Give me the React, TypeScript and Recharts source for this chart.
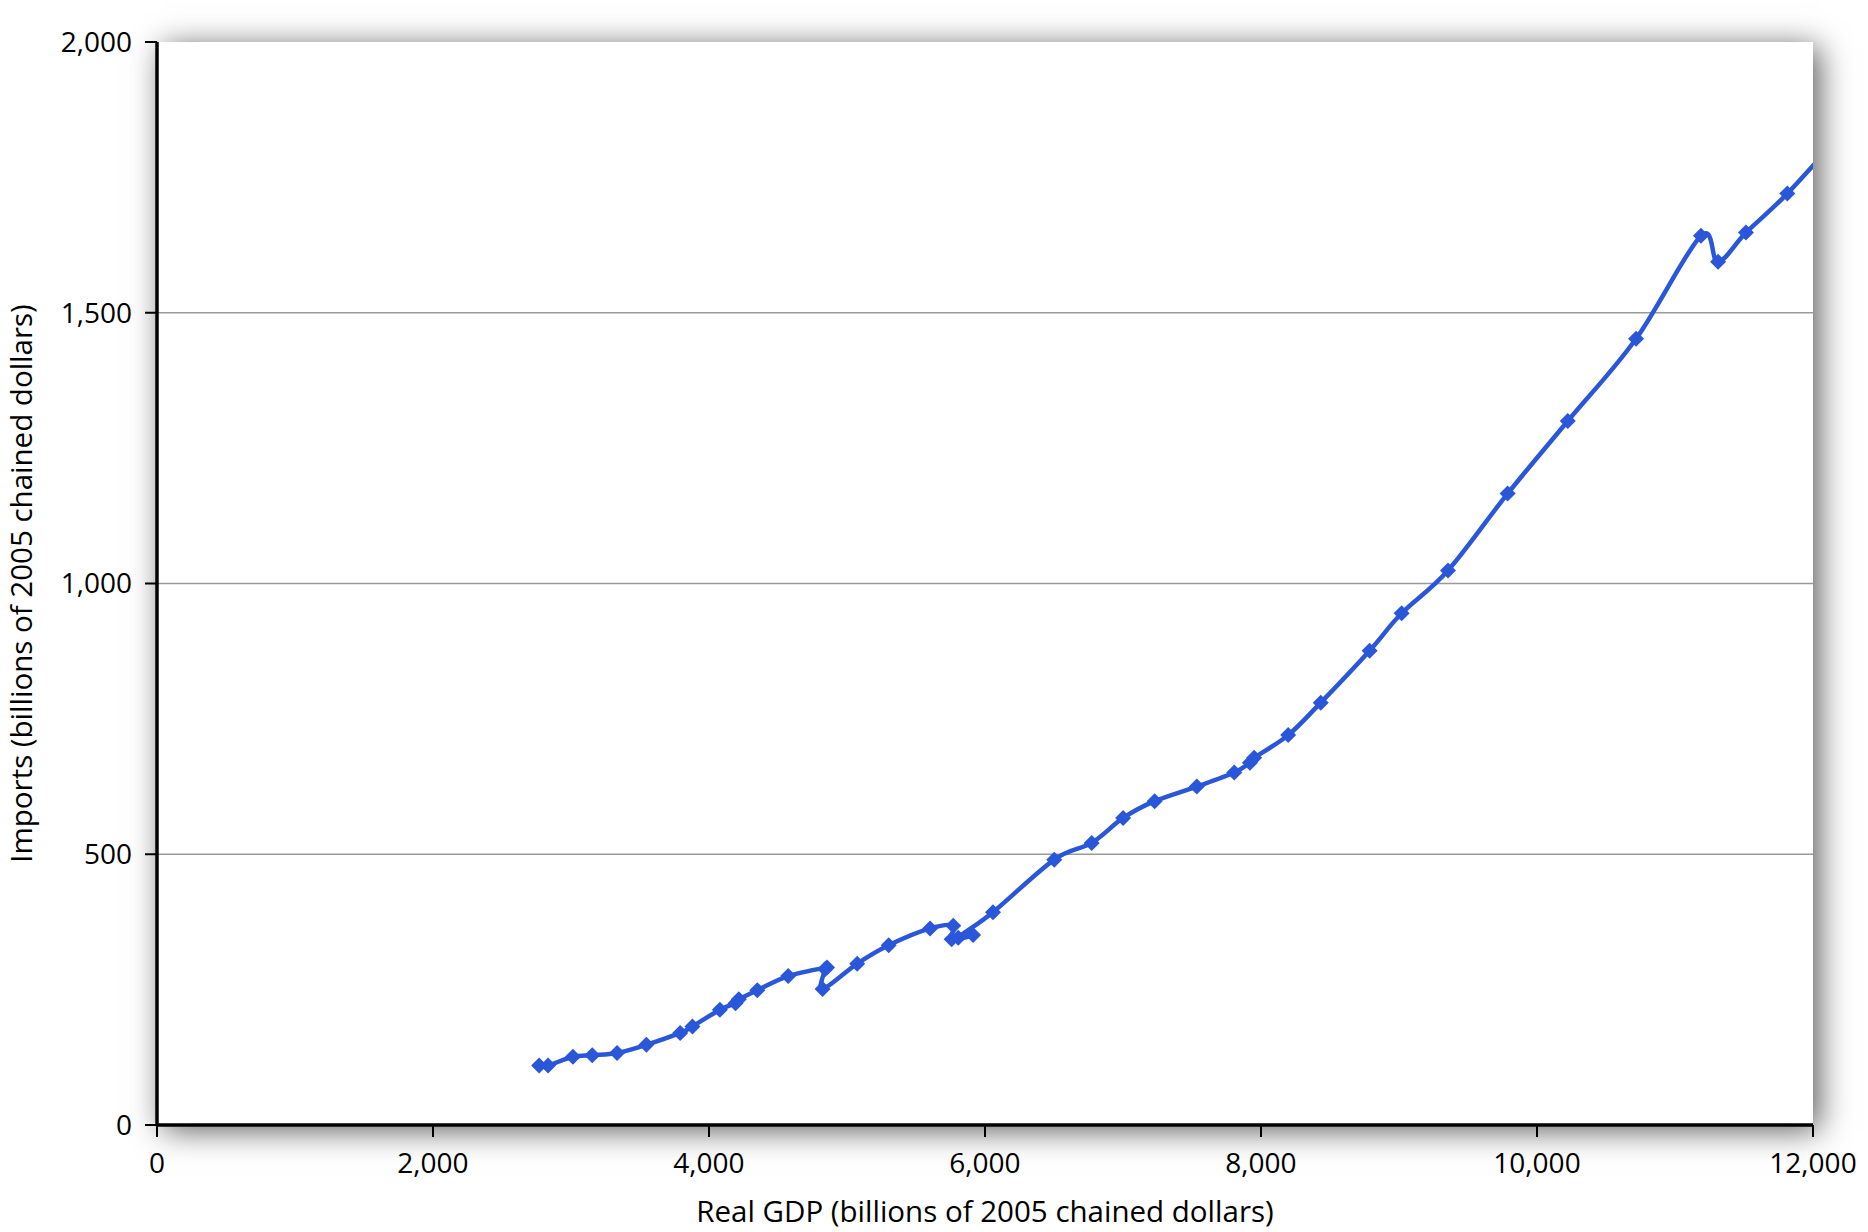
import { LineChart, Line, XAxis, YAxis, CartesianGrid } from 'recharts'

const gdp = [
  2769, 2834, 3014, 3154, 3334, 3546, 3791, 3880, 4079, 4192,
  4216, 4350, 4574, 4855, 4842, 4823, 5074, 5302, 5602, 5770,
  5758, 5914, 5806, 6058, 6502, 6773, 7001, 7229, 7535, 7806,
  7920, 7950, 8197, 8433, 8787, 9019, 9355, 9787, 10223, 10718,
  11188, 11312, 11514, 11814, 12240,
]
const imports = [
  110, 110, 126, 129, 133, 148, 170, 182, 213, 225,
  232, 249, 275, 291, 288, 251, 298, 332, 363, 368,
  343, 351, 346, 393, 490, 521, 567, 598, 625, 651,
  669, 678, 720, 780, 876, 945, 1024, 1166, 1300, 1452,
  1642, 1594, 1648, 1720, 1840,
]
const xTicks = [0, 2000, 4000, 6000, 8000, 10000, 12000]
const yTicks = [0, 500, 1000, 1500, 2000]
const gridValues = [500, 1000, 1500]

const data = gdp.map((g, i) => ({ gdp: g, imports: imports[i] }))

const BLUE = '#2a56da'
const FONT = "'Open Sans', 'DejaVu Sans', sans-serif"
const fmt = (v: number) => v.toLocaleString('en-US')

// smoothed line like the spreadsheet one: bezier with control points at 1/6 of the neighbour span
const smoothCurve = (context: any) => {
  let pts: number[][] = []
  return {
    areaStart() {},
    areaEnd() {},
    lineStart() { pts = [] },
    point(x: number, y: number) { pts.push([+x, +y]) },
    lineEnd() {
      if (!pts.length) return
      context.moveTo(pts[0][0], pts[0][1])
      for (let i = 0; i < pts.length - 1; i++) {
        const p0 = pts[i - 1] ?? pts[i]
        const p1 = pts[i]
        const p2 = pts[i + 1]
        const p3 = pts[i + 2] ?? p2
        context.bezierCurveTo(
          p1[0] + (p2[0] - p0[0]) / 6, p1[1] + (p2[1] - p0[1]) / 6,
          p2[0] - (p3[0] - p1[0]) / 6, p2[1] - (p3[1] - p1[1]) / 6,
          p2[0], p2[1],
        )
      }
    },
  }
}

const Diamond = (props: any) => {
  const { cx, cy, payload, index } = props
  if (payload.gdp > 12000) return <g key={index} />
  const s = 8
  return (
    <path
      key={index}
      d={`M${cx},${cy - s}L${cx + s},${cy}L${cx},${cy + s}L${cx - s},${cy}Z`}
      fill={BLUE}
    />
  )
}

const XTitle = (props: any) => {
  const vb = props.viewBox ?? { x: 157, y: 1125, width: 1656, height: 107 }
  return (
    <text x={vb.x + vb.width / 2} y={vb.y + 97} textAnchor="middle"
      fontFamily={FONT} fontSize={29.5} fill="#000">
      Real GDP (billions of 2005 chained dollars)
    </text>
  )
}

const YTitle = (props: any) => {
  const vb = props.viewBox ?? { x: 0, y: 42, width: 157, height: 1083 }
  const cx = 32
  const cy = vb.y + vb.height / 2
  return (
    <text x={cx} y={cy} transform={`rotate(-90, ${cx}, ${cy})`} textAnchor="middle"
      fontFamily={FONT} fontSize={29.5} fill="#000">
      Imports (billions of 2005 chained dollars)
    </text>
  )
}

export default function App() {
  const tickStyle = { fontSize: 28, fill: '#000', fontFamily: FONT }
  return (
    <div style={{ position: 'absolute', left: 0, top: 0, width: 1868, height: 1232, background: '#fff' }}>
      <div
        style={{
          position: 'absolute', left: 157, top: 42, width: 1656, height: 1083,
          background: '#fff', boxShadow: '6px 5px 30px rgba(0,0,0,0.65)',
        }}
      />
      <div style={{ position: 'absolute', left: 0, top: 0 }}>
        <LineChart width={1868} height={1232} data={data}
          margin={{ top: 42, right: 55, left: 0, bottom: 0 }}>
          <CartesianGrid vertical={false} horizontalValues={gridValues} stroke="#999" strokeWidth={1.5} />
          <XAxis
            type="number"
            dataKey="gdp"
            domain={[0, 12000]}
            ticks={xTicks}
            allowDataOverflow
            interval={0}
            tickFormatter={fmt}
            tick={tickStyle}
            tickSize={12}
            tickMargin={16}
            height={107}
            axisLine={{ stroke: '#000', strokeWidth: 3.5 }}
            tickLine={{ stroke: '#000', strokeWidth: 2 }}
            label={XTitle}
          />
          <YAxis
            type="number"
            domain={[0, 2000]}
            ticks={yTicks}
            allowDataOverflow
            interval={0}
            tickFormatter={fmt}
            tick={tickStyle}
            tickSize={12}
            tickMargin={13}
            width={157}
            axisLine={{ stroke: '#000', strokeWidth: 3.5 }}
            tickLine={{ stroke: '#000', strokeWidth: 2 }}
            label={YTitle}
          />
          <Line
            dataKey="imports"
            type={smoothCurve as any}
            stroke={BLUE}
            strokeWidth={4.5}
            dot={Diamond}
            activeDot={false}
            isAnimationActive={false}
          />
        </LineChart>
      </div>
    </div>
  )
}
